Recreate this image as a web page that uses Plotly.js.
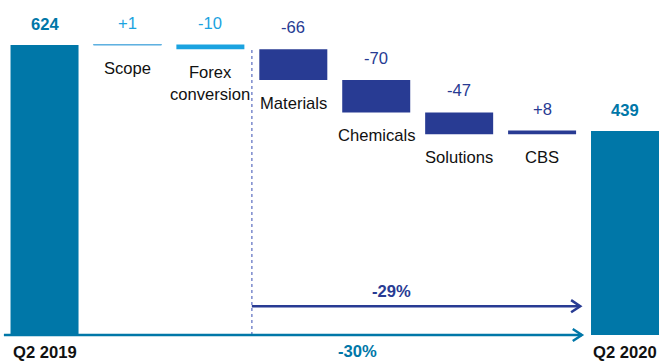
<!DOCTYPE html>
<html><head><meta charset="utf-8">
<script src="https://cdn.plot.ly/plotly-3.0.1.min.js"></script>
<style>html,body{margin:0;padding:0;background:#fff}#chart{width:661px;height:362px}</style>
</head><body><div id="chart"></div>
<script>
const categories = ['Q2 2019','Scope','Forex\nconversion','Materials','Chemicals','Solutions','CBS','Q2 2020'];
const values = [624, 1, -10, -66, -70, -47, 8, 439];
const kinds = ['total','delta','delta','delta','delta','delta','delta','total'];
const valueLabels = ['624','+1','-10','-66','-70','-47','+8','439'];
const changeLabels = ['-29%','-30%'];
const changeValues = [-29, -30];

const TEAL = '#0077A8', LIGHT = '#1BA3E0', SCOPE = '#5EB1E0', DARK = '#283B93';
const barColors = [TEAL, SCOPE, LIGHT, DARK, DARK, DARK, DARK, TEAL];
const labelColors = [TEAL, LIGHT, LIGHT, DARK, DARK, DARK, DARK, TEAL];
const FONT = 'Arial, "Liberation Sans", sans-serif';
const FS = 16.6;

const xs = categories.map((c, i) => i);
const bases = [], heights = [];
let run = 0;
values.forEach((v, i) => {
  if (kinds[i] === 'total') { bases.push(0); heights.push(v); run = v; }
  else { bases.push(v >= 0 ? run : run + v); heights.push(Math.abs(v)); run += v; }
});

const trace = {
  type: 'bar', x: xs, y: heights, base: bases, width: 0.82,
  marker: { color: barColors, line: { color: barColors, width: [0, 1, 0, 0, 0, 0, 0, 0] } },
  hoverinfo: 'skip', showlegend: false
};

const annotations = [];
xs.forEach((x, i) => {
  const top = bases[i] + heights[i], bottom = bases[i];
  const bold = kinds[i] === 'total';
  annotations.push({ x, y: top, xref: 'x', yref: 'y', yanchor: 'bottom', yshift: bold ? 9 : 10,
    text: bold ? '<b>' + valueLabels[i] + '</b>' : valueLabels[i], showarrow: false,
    font: { family: FONT, size: FS, color: labelColors[i] } });
  if (kinds[i] === 'total') {
    annotations.push({ x, y: 0, xref: 'x', yref: 'y', yanchor: 'top', yshift: -6,
      text: '<b>' + categories[i] + '</b>', showarrow: false,
      font: { family: FONT, size: FS, color: '#111' } });
  } else {
    annotations.push({ x, y: bottom, xref: 'x', yref: 'y', yanchor: 'top', yshift: -12,
      text: categories[i].replace('\n', '<br>'), showarrow: false,
      font: { family: FONT, size: FS, color: '#111' } });
  }
});
// change labels
annotations.push({ x: 4.19, y: 62, xref: 'x', yref: 'y', yanchor: 'bottom', yshift: 3,
  text: '<b>' + changeLabels[0] + '</b>', showarrow: false, font: { family: FONT, size: FS, color: DARK } });
annotations.push({ x: 3.78, y: 0, xref: 'x', yref: 'y', yanchor: 'top', yshift: -5,
  text: '<b>' + changeLabels[1] + '</b>', showarrow: false, font: { family: FONT, size: FS, color: TEAL } });

const shapes = [
  { type: 'line', xref: 'x', yref: 'y', x0: 2.5, x1: 2.5, y0: 0, y1: 620, line: { color: '#8391CF', width: 1.6, dash: 'dot' }, layer: 'below' },
  { type: 'line', xref: 'x', yref: 'y', x0: 2.5, x1: 6.46, y0: 62, y1: 62, line: { color: DARK, width: 2.5 } },
  { type: 'path', xref: 'x', yref: 'y', path: 'M 6.35,75 L 6.46,62 L 6.35,49', line: { color: DARK, width: 2.5 } },
  { type: 'line', xref: 'x', yref: 'y', x0: -0.49, x1: 6.48, y0: 0, y1: 0, line: { color: TEAL, width: 2.5 }, layer: 'below' },
  { type: 'path', xref: 'x', yref: 'y', path: 'M 6.37,13 L 6.48,0 L 6.37,-13', line: { color: TEAL, width: 2.5 } }
];

const layout = {
  width: 661, height: 362, margin: { l: 0, r: 0, t: 0, b: 0 },
  paper_bgcolor: '#fff', plot_bgcolor: '#fff',
  xaxis: { range: [-0.537, 7.434], visible: false, fixedrange: true },
  yaxis: { range: [-58.1, 720.9], visible: false, fixedrange: true },
  annotations, shapes, bargap: 0
};
Plotly.newPlot('chart', [trace], layout, { displayModeBar: false, staticPlot: true });
</script></body></html>
